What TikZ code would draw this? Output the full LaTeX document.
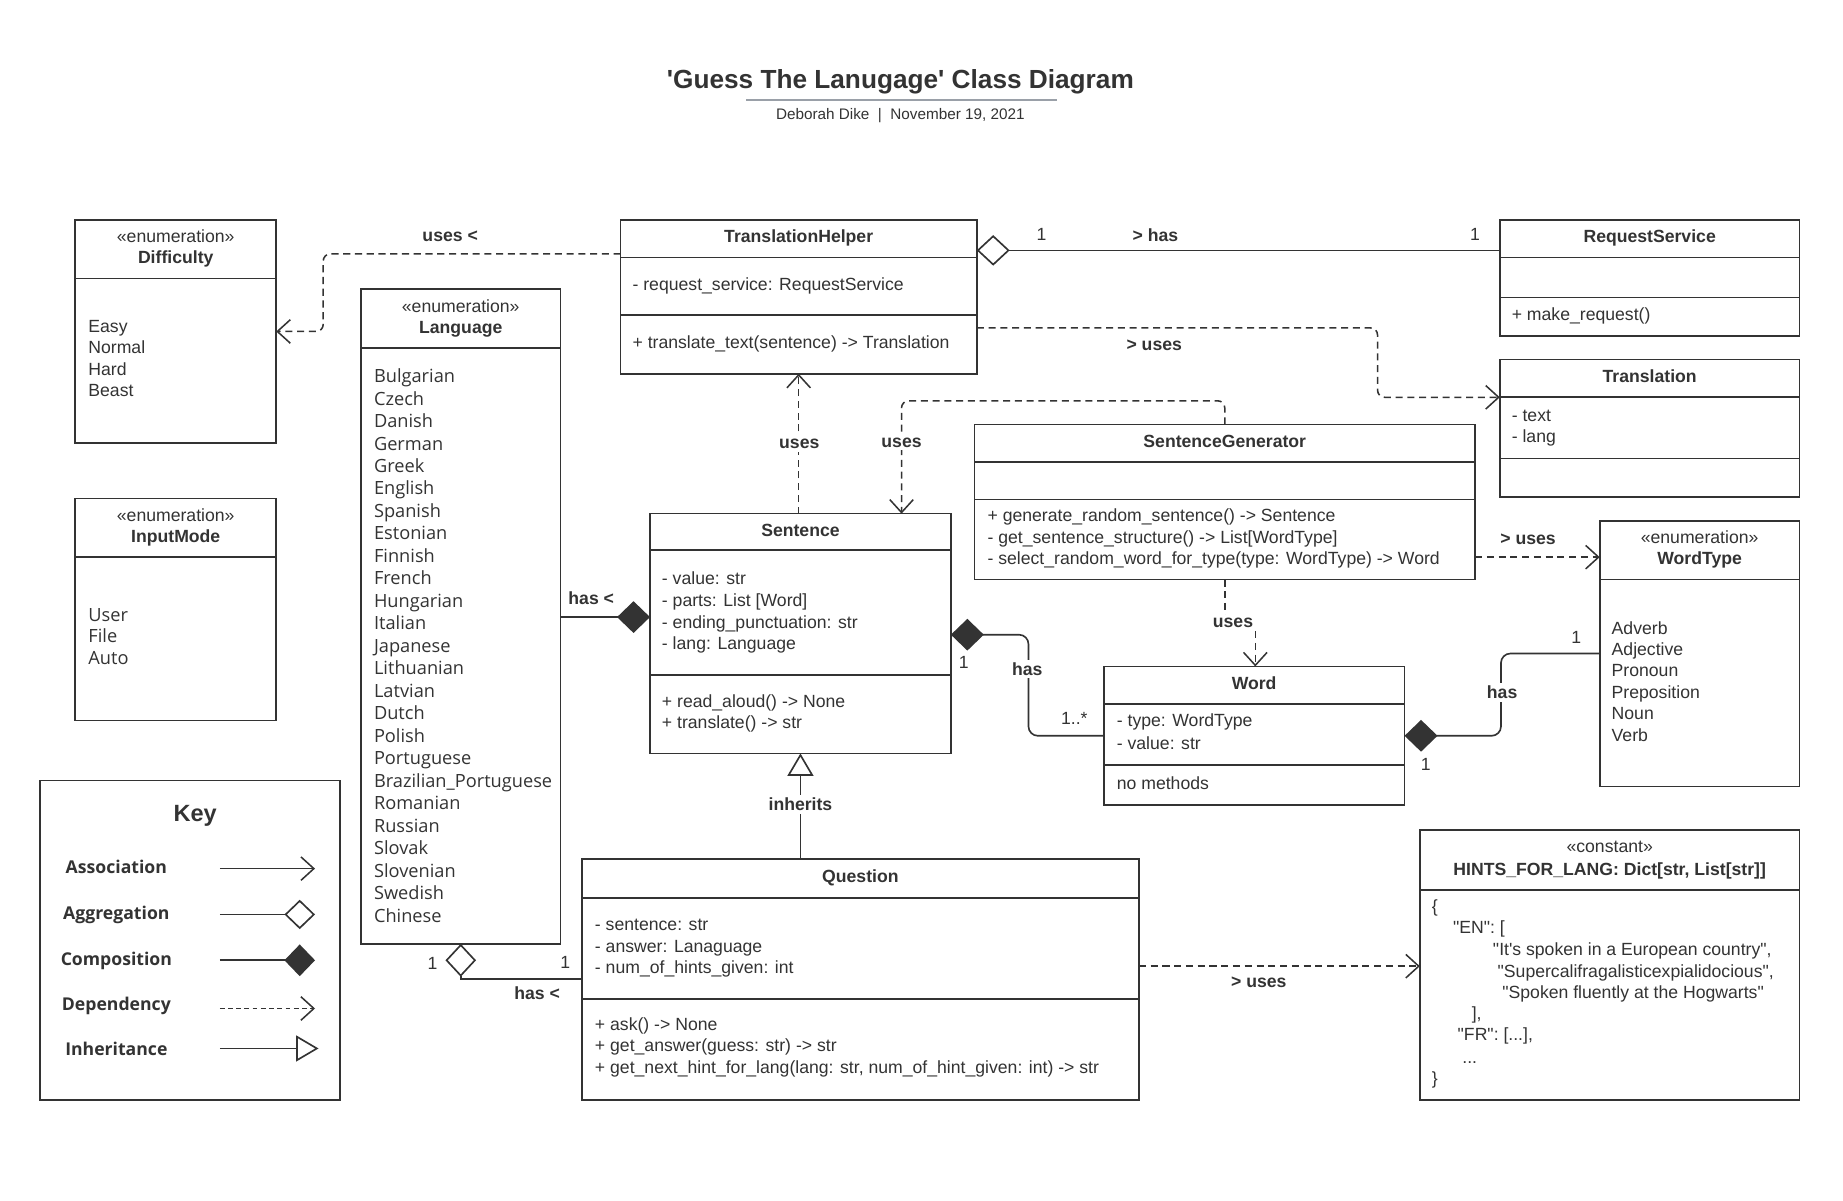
\documentclass[tikz,border=0pt]{standalone}
\usepackage{fontspec}
\setmainfont{Liberation Sans}
\newfontfamily\osans{Open Sans}
\usetikzlibrary{arrows.meta}
\definecolor{cl}{HTML}{333333}
\definecolor{ulc}{HTML}{9AA0A8}
\tikzset{
  ln/.style={draw=cl, line width=1.4pt},
  box/.style={draw=cl, line width=1.4pt, fill=white, inner sep=0pt, outer sep=0pt, anchor=north west},
  tx/.style={text=cl, inner sep=0pt, anchor=base west, font=\fontsize{15}{18}\selectfont},
  hd/.style={text=cl, inner sep=0pt, anchor=base, font=\fontsize{15}{18}\selectfont},
  hb/.style={hd, font=\bfseries\fontsize{15}{18}\selectfont},
  os/.style={tx, font=\osans\fontsize{15.5}{19}\selectfont},
  lb/.style={text=cl, inner sep=1.5pt, anchor=base, font=\bfseries\fontsize{15}{18}\selectfont},
  lbw/.style={lb, fill=white, inner sep=2.5pt},
  mu/.style={text=cl, inner sep=0pt, anchor=base, font=\fontsize{15}{18}\selectfont},
  keyl/.style={text=cl, inner sep=0pt, anchor=base, font=\osans\bfseries\fontsize{15}{18}\selectfont},
  dep/.style={draw=cl, line width=1.3pt, dash pattern=on 6pt off 4pt, rounded corners=6pt,
    -{Straight Barb[length=11pt,width=20pt,line width=1.3pt]}},
  asc/.style={draw=cl, line width=1.3pt, -{Straight Barb[length=11pt,width=20pt,line width=1.3pt]}},
  agg/.style={draw=cl, line width=1.4pt, {Diamond[open,length=28pt,width=26pt,line width=1.4pt]}-},
  aggk/.style={draw=cl, line width=1.4pt, -{Diamond[open,length=26pt,width=25pt,line width=1.4pt]}},
  comp/.style={draw=cl, line width=1.4pt, rounded corners=8pt, {Diamond[length=28pt,width=27pt]}-},
  compk/.style={draw=cl, line width=1.4pt, -{Diamond[length=26pt,width=27pt]}},
  inh/.style={draw=cl, line width=1.4pt, -{Triangle[open,length=19pt,width=22pt,line width=1.4pt]}},
}
\newcommand\hdiv[2]{\draw[ln] (#1.west |- 0,#2) -- (#1.east |- 0,#2);}
\newcommand\qq{\textquotedbl}
\begin{document}
\begin{tikzpicture}[x=1pt,y=-1pt]
\useasboundingbox[fill=white] (0,0) rectangle (1568,1021);

% ---------- title ----------
\node[text=cl, inner sep=0pt, anchor=base, font=\bfseries\fontsize{22.3}{26}\selectfont] (title) at (766,75)
  {\textquotesingle Guess The Lanugage\textquotesingle{} Class Diagram};
\draw[draw=ulc, line width=1.2pt] (635,85) -- (899,85);
\node[text=cl, inner sep=0pt, anchor=base, font=\fontsize{13}{15}\selectfont] (sub) at (766,101.5)
  {Deborah Dike\ \ |\ \ November 19, 2021};

% ---------- boxes ----------
\node[box, minimum width=171pt, minimum height=190pt] (Diff) at (64,187) {};
\node[box, minimum width=171pt, minimum height=189pt] (InM) at (64,424) {};
\node[box, minimum width=170pt, minimum height=557pt] (Lang) at (307,246) {};
\node[box, minimum width=303pt, minimum height=131pt] (TH) at (528,187) {};
\node[box, minimum width=255pt, minimum height=99pt] (RS) at (1276,187) {};
\node[box, minimum width=255pt, minimum height=117pt] (Tr) at (1276,306) {};
\node[box, minimum width=426pt, minimum height=132pt] (SG) at (829,361) {};
\node[box, minimum width=170pt, minimum height=226pt] (WT) at (1361,443) {};
\node[box, minimum width=256pt, minimum height=204pt] (Sen) at (553,437) {};
\node[box, minimum width=256pt, minimum height=118pt] (Word) at (939,567) {};
\node[box, minimum width=474pt, minimum height=205pt] (Q) at (495,731) {};
\node[box, minimum width=323pt, minimum height=230pt] (Hints) at (1208,706) {};
\node[box, minimum width=255pt, minimum height=272pt] (Key) at (34,664) {};

% dividers
\hdiv{Diff}{237}
\hdiv{InM}{474}
\hdiv{Lang}{296}
\hdiv{TH}{219}\hdiv{TH}{268}
\hdiv{RS}{219}\hdiv{RS}{253}
\hdiv{Tr}{338}\hdiv{Tr}{390}
\hdiv{SG}{393}\hdiv{SG}{425}
\hdiv{WT}{493}
\hdiv{Sen}{468}\hdiv{Sen}{574}
\hdiv{Word}{599}\hdiv{Word}{651}
\hdiv{Q}{764}\hdiv{Q}{850}
\hdiv{Hints}{757}

% ---------- headers ----------
\node[hd] (DiffS) at (149.5,206.5) {«enumeration»};
\node[hb] (DiffN) at (149.5,224.5) {Difficulty};
\node[hd] (InMS) at (149.5,443.5) {«enumeration»};
\node[hb] (InMN) at (149.5,461.5) {InputMode};
\node[hd] (LangS) at (392,265.5) {«enumeration»};
\node[hb] (LangN) at (392,283.5) {Language};
\node[hb] (THN) at (679.5,206.5) {TranslationHelper};
\node[hb] (RSN) at (1403.5,206.5) {RequestService};
\node[hb] (TrN) at (1403.5,325.5) {Translation};
\node[hb] (SGN) at (1042,380.5) {SentenceGenerator};
\node[hd] (WTS) at (1446,462.5) {«enumeration»};
\node[hb] (WTN) at (1446,480.5) {WordType};
\node[hb] (SenN) at (681,456.5) {Sentence};
\node[hb] (WordN) at (1067,586.5) {Word};
\node[hb] (QN) at (732,750.5) {Question};
\node[hd] (HS) at (1369.5,725.5) {«constant»};
\node[hb] (HN) at (1369.5,744.5) {HINTS\_FOR\_LANG: Dict[str, List[str]]};

% ---------- bodies ----------
\foreach \t [count=\i from 0] in {Easy,Normal,Hard,Beast}
  \node[tx] (diff\i) at (75,{282.5+18.3*\i}) {\t};
\foreach \t [count=\i from 0] in {User,File,Auto}
  \node[os] (inm\i) at (75,{528.5+18.5*\i}) {\t};
\foreach \t [count=\i from 0] in {Bulgarian,Czech,Danish,German,Greek,English,Spanish,Estonian,Finnish,French,Hungarian,Italian,Japanese,Lithuanian,Latvian,Dutch,Polish,Portuguese,Brazilian\_Portuguese,Romanian,Russian,Slovak,Slovenian,Swedish,Chinese}
  \node[os] (lang\i) at (318,{325.5+19.125*\i}) {\t};
\node[tx] (th1) at (538,247.5) {- request\_service: RequestService};
\node[tx] (th2) at (538,296.5) {+ translate\_text(sentence) -> Translation};
\node[tx] (rs1) at (1286,272.5) {+ make\_request()};
\node[tx] (tr1) at (1286,358.5) {- text};
\node[tx] (tr2) at (1286,376.5) {- lang};
\foreach \t [count=\i from 0] in {{+ generate\_random\_sentence() -> Sentence},{- get\_sentence\_structure() -> List[WordType]},{- select\_random\_word\_for\_type(type: WordType) -> Word}}
  \node[tx] (sg\i) at (840,{443.5+18.5*\i}) {\t};
\foreach \t [count=\i from 0] in {Adverb,Adjective,Pronoun,Preposition,Noun,Verb}
  \node[tx] (wt\i) at (1371,{539.5+18.2*\i}) {\t};
\foreach \t [count=\i from 0] in {{- value: str},{- parts: List [Word]},{- ending\_punctuation: str},{- lang: Language}}
  \node[tx] (sa\i) at (563,{497.5+18.4*\i}) {\t};
\node[tx] (sm0) at (563,601.5) {+ read\_aloud() -> None};
\node[tx] (sm1) at (563,619.5) {+ translate() -> str};
\node[tx] (wa0) at (950,618.5) {- type: WordType};
\node[tx] (wa1) at (950,637.5) {- value: str};
\node[tx] (wm0) at (950,671.5) {no methods};
\foreach \t [count=\i from 0] in {{- sentence: str},{- answer: Lanaguage},{- num\_of\_hints\_given: int}}
  \node[tx] (qa\i) at (506,{791.5+18.5*\i}) {\t};
\foreach \t [count=\i from 0] in {{+ ask() -> None},{+ get\_answer(guess: str) -> str},{+ get\_next\_hint\_for\_lang(lang: str, num\_of\_hint\_given: int) -> str}}
  \node[tx] (qm\i) at (506,{876.5+18.5*\i}) {\t};
\node[tx] (h0) at (1218,776.5) {\{};
\node[tx] (h1) at (1236,794.5) {\qq EN\qq: [};
\node[tx] (h2) at (1270,812.5) {\qq It\textquotesingle s spoken in a European country\qq,};
\node[tx] (h3) at (1274,831.5) {\qq Supercalifragalisticexpialidocious\qq,};
\node[tx] (h4) at (1278,849.5) {\qq Spoken fluently at the Hogwarts\qq};
\node[tx] (h5) at (1252,867.5) {],};
\node[tx] (h6) at (1240,885.5) {\qq FR\qq: [...],};
\node[tx] (h7) at (1244,904.5) {...};
\node[tx] (h8) at (1218,922.5) {\}};

% ---------- connectors ----------
\draw[dep] (TH.west |- 0,216) -- (275,216) -- (275,282) -- (Diff.east |- 0,282);
\node[lb] (l1) at (383,205.5) {uses <};

\draw[agg] (TH.east |- 0,213) -- (RS.west |- 0,213);
\node[mu] (m1) at (886,204.5) {1};
\node[lb] (l2) at (983,205.5) {> has};
\node[mu] (m2) at (1255,204.5) {1};

\draw[dep] (TH.east |- 0,279) -- (1172,279) -- (1172,338) -- (Tr.west |- 0,338);
\node[lb] (l3) at (982,298.5) {> uses};

\draw[dep] (Sen.north -| TH.south) -- (TH.south);
\node[lbw] (l4) at (680,381.5) {uses};

\draw[dep] (SG.north) -- (1042,341) -- (767,341) -- (Sen.north -| 767,0);
\node[lbw] (l5) at (767,380.5) {uses};

\draw[dep] (SG.east |- 0,474) -- (WT.west |- 0,474);
\node[lb] (l6) at (1300,463.5) {> uses};

\draw[dep, rounded corners=0pt] (SG.south) -- (1042,528) -- (1068,528) -- (Word.north -| 1068,0);
\node[lbw] (l7) at (1049,533.5) {uses};

\draw[comp, rounded corners=0pt] (Sen.west |- 0,525) -- (Lang.east |- 0,525);
\node[lb] (l8) at (503,514.5) {has <};

\draw[comp] (Sen.east |- 0,540) -- (875,540) -- (875,626) -- (Word.west |- 0,626);
\node[mu] (m3) at (820,568.5) {1};
\node[lbw] (l9) at (874,574.5) {has};
\node[mu] (m4) at (914,616.5) {1..*};

\draw[comp] (Word.east |- 0,626) -- (1277,626) -- (1277,556) -- (WT.west |- 0,556);
\node[lbw] (l10) at (1278,594.5) {has};
\node[mu] (m5) at (1213,655.5) {1};
\node[mu] (m6) at (1341,547.5) {1};

\draw[inh] (Q.north -| Sen.south) -- (Sen.south);
\node[lbw] (l11) at (681,689.5) {inherits};

\draw[agg] (Lang.south) -- (392,833) -- (Q.west |- 0,833);
\node[mu] (m7) at (368,825) {1};
\node[mu] (m8) at (481,824) {1};
\node[lb] (l12) at (457,850.5) {has <};

\draw[dep] (Q.east |- 0,822) -- (Hints.west |- 0,822);
\node[lb] (l13) at (1071,840.5) {> uses};

% ---------- key ----------
\node[text=cl, inner sep=0pt, anchor=base, font=\bfseries\fontsize{20}{24}\selectfont] (keyt) at (166,699) {Key};
\node[keyl] (k1) at (99,743) {Association};
\node[keyl] (k2) at (99,782) {Aggregation};
\node[keyl] (k3) at (99,821) {Composition};
\node[keyl] (k4) at (99,860) {Dependency};
\node[keyl] (k5) at (99,898) {Inheritance};
\coordinate (ka1) at (187,739); \coordinate (kb1) at (268,739);
\coordinate (ka2) at (187,778); \coordinate (kb2) at (268,778);
\coordinate (ka3) at (187,817); \coordinate (kb3) at (268,817);
\coordinate (ka4) at (187,858); \coordinate (kb4) at (268,858);
\coordinate (ka5) at (187,892); \coordinate (kb5) at (271,892);
\draw[asc] (ka1) -- (kb1);
\draw[aggk] (ka2) -- (kb2);
\draw[compk] (ka3) -- (kb3);
\draw[asc, dash pattern=on 4pt off 3pt] (ka4) -- (kb4);
\draw[inh] (ka5) -- (kb5);
\end{tikzpicture}
\end{document}
